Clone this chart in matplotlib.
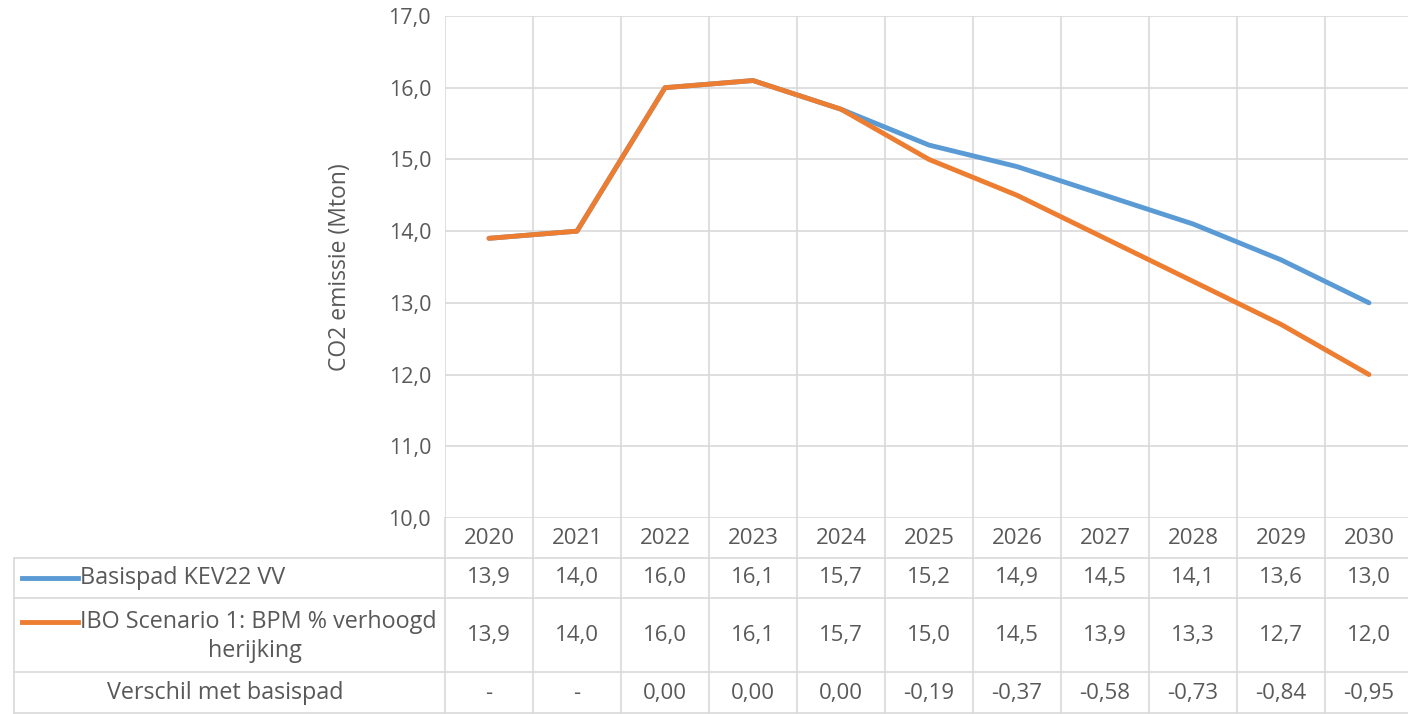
import matplotlib.pyplot as plt
from matplotlib.lines import Line2D
import matplotlib.transforms as mtransforms

years = [2020, 2021, 2022, 2023, 2024, 2025, 2026, 2027, 2028, 2029, 2030]
basispad = [13.9, 14.0, 16.0, 16.1, 15.7, 15.2, 14.9, 14.5, 14.1, 13.6, 13.0]
scenario = [13.9, 14.0, 16.0, 16.1, 15.7, 15.0, 14.5, 13.9, 13.3, 12.7, 12.0]
verschil = [None, None, 0.00, 0.00, 0.00, -0.19, -0.37, -0.58, -0.73, -0.84, -0.95]
yticks = [10, 11, 12, 13, 14, 15, 16, 17]

blue = "#5b9bd5"
orange = "#ed7d31"
grid_c = "#d9d9d9"
text_c = "#595959"
plt.rcParams['font.family'] = ['Open Sans', 'DejaVu Sans']

W, H = 1408, 714
fig = plt.figure(figsize=(W / 100, H / 100), dpi=100)
fig.patch.set_facecolor("white")

def fy(py):
    return 1 - py / H

ax = fig.add_axes([445 / W, fy(518), (1413 - 445) / W, (518 - 16) / H])
ax.set_xlim(-0.5, len(years) - 0.5)
ax.set_ylim(10, 17)
for s in ax.spines.values():
    s.set_visible(False)
ax.set_xticks([])
ax.set_yticks(yticks)
ax.set_yticklabels([f"{v:.1f}".replace(".", ",") for v in yticks], fontsize=15.5, color=text_c)
ax.tick_params(axis="y", length=0, pad=10)
for v in yticks:
    ax.axhline(v, color=grid_c, lw=1.2, zorder=0)
for i in range(len(years) + 1):
    ax.axvline(i - 0.5, color=grid_c, lw=1.2, zorder=0)
ax.set_ylabel("CO2 emissie (Mton)", fontsize=16.5, color=text_c, labelpad=26)

x = list(range(len(years)))
ax.plot(x, basispad, color=blue, lw=3.5, solid_capstyle="round", zorder=2)
ax.plot(x, scenario, color=orange, lw=3.5, solid_capstyle="round", zorder=3)

# data table below the plot
tr = mtransforms.blended_transform_factory(ax.transData, fig.transFigure)
row_lines = [558, 598, 672, 713]
for py in row_lines:
    fig.add_artist(Line2D([14 / W, 1413 / W], [fy(py), fy(py)], color=grid_c, lw=1.2))
fig.add_artist(Line2D([14 / W, 14 / W], [fy(558), fy(713)], color=grid_c, lw=1.2))
for i in range(len(years) + 1):
    fig.add_artist(Line2D([i - 0.5, i - 0.5], [fy(518), fy(713)], color=grid_c, lw=1.2, transform=tr))

fs = 16
for i, yr in enumerate(years):
    fig.text(i, fy(539), str(yr), transform=tr, ha="center", va="center", fontsize=fs, color=text_c)
    fig.text(i, fy(578), f"{basispad[i]:.1f}".replace(".", ","), transform=tr,
             ha="center", va="center", fontsize=fs, color=text_c)
    fig.text(i, fy(636), f"{scenario[i]:.1f}".replace(".", ","), transform=tr,
             ha="center", va="center", fontsize=fs, color=text_c)
    d = "-" if verschil[i] is None else f"{verschil[i]:.2f}".replace(".", ",")
    fig.text(i, fy(693), d, transform=tr, ha="center", va="center", fontsize=fs, color=text_c)

# legend keys in table
fs_lab = 16.8
fig.add_artist(Line2D([22 / W, 78 / W], [fy(578), fy(578)], color=blue, lw=3.5))
fig.text(80 / W, fy(578), "Basispad KEV22 VV", ha="left", va="center", fontsize=fs_lab, color=text_c)
fig.add_artist(Line2D([22 / W, 78 / W], [fy(622), fy(622)], color=orange, lw=3.5))
fig.text(80 / W, fy(622), "IBO Scenario 1: BPM % verhoogd", ha="left", va="center", fontsize=fs_lab, color=text_c)
fig.text(255 / W, fy(651), "herijking", ha="center", va="center", fontsize=fs_lab, color=text_c)
fig.text(225 / W, fy(693), "Verschil met basispad", ha="center", va="center", fontsize=fs_lab, color=text_c)

fig.savefig("out.png", dpi=100, facecolor="white")
